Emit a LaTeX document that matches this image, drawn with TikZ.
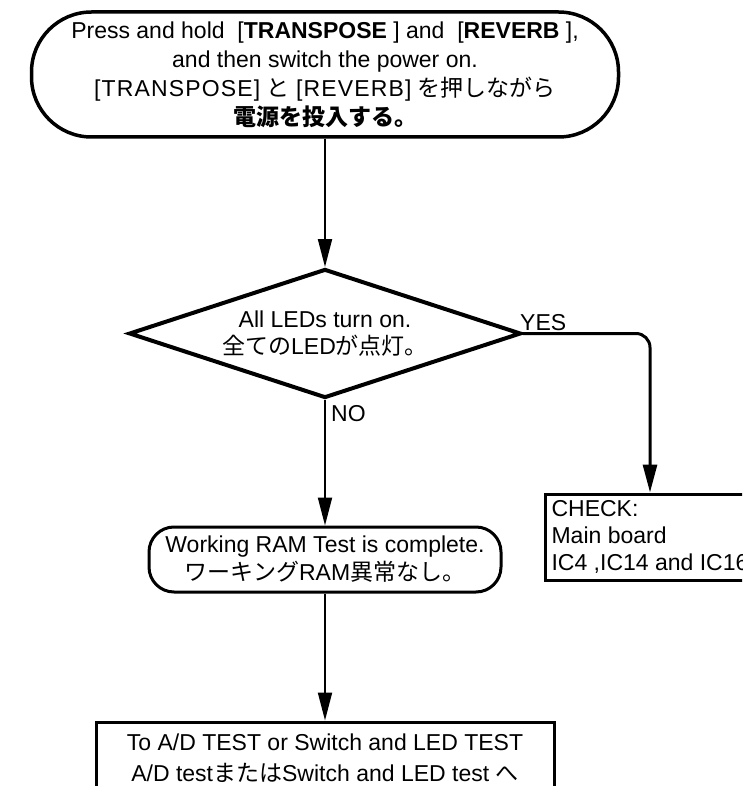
\documentclass[tikz,border=0pt]{standalone}
\usepackage{fontspec}
\setmainfont{Liberation Sans}
\newfontfamily\cjk{Noto Sans CJK JP}
\usetikzlibrary{shapes.geometric,arrows.meta}

% slightly spread key names, as set in the Japanese line
\newcommand{\spreadkey}[1]{{\addfontfeature{LetterSpace=5}#1}}

\begin{document}
\begin{tikzpicture}[x=1pt,y=-1pt,
  every node/.style={font=\fontsize{23}{29}\selectfont, inner sep=0pt},
  terminal/.style={draw, line width=3.5pt, align=center},
  decision/.style={diamond, draw, line width=4pt, shape aspect=3, align=center,
                   font=\fontsize{23}{27}\selectfont},
  plainbox/.style={draw, line width=3pt},
  arr/.style={line width=2pt, -{Triangle[length=28pt,width=14pt]}},
  lbl/.style={font=\fontsize{23}{27}\selectfont}
]
\useasboundingbox (0,0) rectangle (742,786);
\clip (0,0) rectangle (742,786);
\fill[white] (0,0) rectangle (742,786);

% start: power on with two buttons held
\node[terminal, rounded corners=60pt, minimum width=587pt, minimum height=125pt] (start) at (325,74.5)
  {Press and hold \ [\textbf{TRANSPOSE} ] and \ [\textbf{REVERB} ],\\
   and then switch the power on.\\
   \spreadkey{[TRANSPOSE]} {\cjk と} \spreadkey{[REVERB]} {\cjk を押しながら}\\
   {\cjk\bfseries 電源を投入する。}};

% LED check
\node[decision, minimum width=392pt, minimum height=129pt] (dia) at (325,333.5)
  {All LEDs turn on.\\{\cjk 全ての}LED{\cjk が点灯。}};

\node[lbl, anchor=base west] (yes) at (520,330) {YES};
\node[lbl, anchor=north west] (no) at (331,405) {NO};

% RAM test result
\node[terminal, line width=3pt, rounded corners=25pt, minimum width=352pt, minimum height=65pt,
      font=\fontsize{23}{28}\selectfont] (ram) at (325,559.5)
  {Working RAM Test is complete.\\{\cjk ワーキング}RAM{\cjk 異常なし。}};

% failure branch
\node[plainbox, minimum width=210pt, minimum height=86pt, align=left,
      font=\fontsize{23}{27}\selectfont] (chk) at (650,537)
  {CHECK:\\Main board\\IC4 ,IC14 and IC16};

% next step
\node[plainbox, minimum width=458pt, minimum height=72pt, align=center,
      font=\fontsize{23}{31}\selectfont] (next) at (325,758)
  {To A/D TEST or Switch and LED TEST\\
   A/D test{\cjk または}Switch and LED test {\cjk へ}};

% connectors
\draw[arr] (start.south) -- (dia.north);
\draw[arr] (dia.south) -- (ram.north);
\draw[arr] (ram.south) -- (next.north);
\draw[arr, line width=3pt, rounded corners=14pt] (dia.east) -| (chk.north);
\end{tikzpicture}
\end{document}
